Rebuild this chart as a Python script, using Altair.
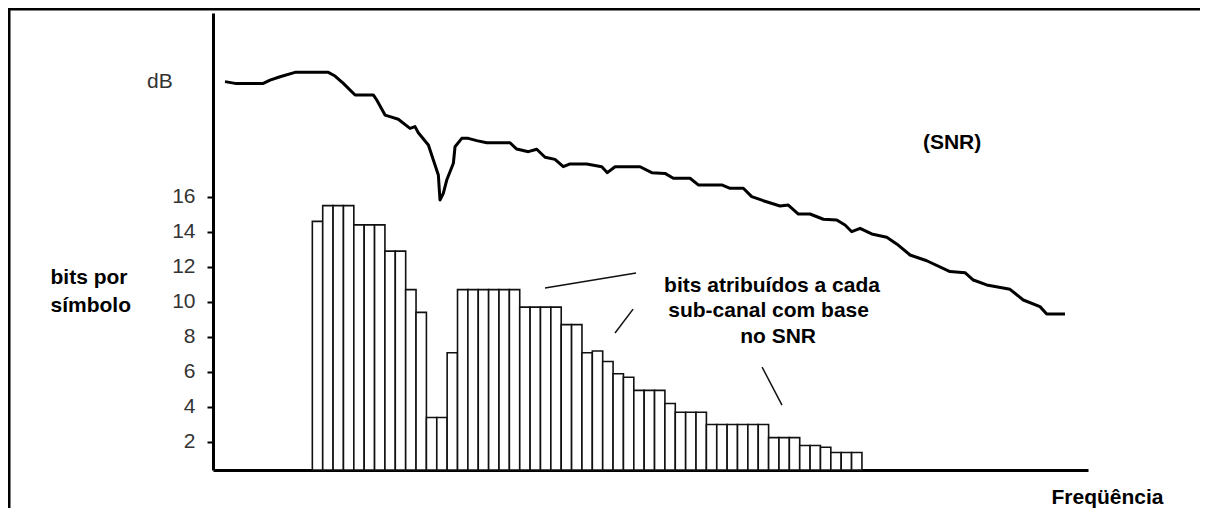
import altair as alt
import pandas as pd

# ---- data ----
bits = [14.6, 15.5, 15.5, 15.5, 14.4, 14.4, 14.4, 12.9, 12.9, 10.7, 9.4, 3.4, 3.4, 7.1,
        10.7, 10.7, 10.7, 10.7, 10.7, 10.7, 9.7, 9.7, 9.7, 9.7, 8.7, 8.7, 7.1, 7.2,
        6.6, 5.9, 5.7, 4.95, 4.95, 4.95, 4.2, 3.7, 3.7, 3.7, 3.0, 3.0, 3.0, 3.0, 3.0, 3.0,
        2.25, 2.25, 2.25, 1.8, 1.8, 1.7, 1.4, 1.4, 1.4]
channels = list(range(1, len(bits) + 1))

snr_x = [-8.42, -7.45, -4.73, -4.08, -3.11, -1.67, 1.54, 2.19, 2.99, 4.12, 5.88, 6.21, 7.01, 7.49,
         8.29, 9.42, 9.90, 10.22, 11.19, 11.67, 12.15, 12.31, 12.63, 12.96, 13.60, 13.76, 14.41,
         15.04, 15.85, 16.82, 19.06, 19.71, 20.83, 21.64, 22.44, 23.40, 24.20, 24.85, 26.46, 27.91,
         28.45, 29.19, 31.60, 32.73, 34.01, 34.81, 36.42, 37.22, 39.48, 40.28, 41.56, 42.37, 43.49,
         45.10, 45.90, 46.87, 47.99, 49.28, 50.57, 51.37, 52.02, 52.82, 53.94, 55.39, 56.35, 57.64,
         59.25, 61.49, 62.94, 63.74, 65.03, 67.28, 68.56, 70.17, 70.82, 72.58]
snr_y = [22.58, 22.48, 22.48, 22.67, 22.86, 23.11, 23.11, 22.90, 22.48, 21.82, 21.82, 21.53, 20.67,
         20.58, 20.43, 19.91, 20.01, 19.66, 18.96, 18.10, 17.25, 15.82, 16.20, 16.96, 17.92, 18.86,
         19.34, 19.34, 19.21, 19.09, 19.09, 18.73, 18.58, 18.72, 18.26, 18.14, 17.72, 17.88, 17.88,
         17.72, 17.38, 17.72, 17.72, 17.38, 17.34, 17.06, 17.06, 16.68, 16.68, 16.49, 16.49, 16.01,
         15.78, 15.48, 15.53, 15.02, 15.02, 14.72, 14.68, 14.39, 14.01, 14.20, 13.88, 13.69, 13.31,
         12.68, 12.35, 11.73, 11.67, 11.25, 10.97, 10.72, 10.11, 9.73, 9.31, 9.31]

ptr_x = [22.44, 30.93, 43.37]
ptr_y = [10.79, 9.59, 6.28]
ptr_x2 = [31.22, 29.19, 45.29]
ptr_y2 = [11.65, 8.22, 4.11]

ann_text = ["bits atribuídos a cada", "sub-canal com base", "no SNR"]
ann_x = [44.33, 44.0, 44.91]
ann_y = [10.57, 9.14, 7.65]

snr_label = ["(SNR)"]
snr_label_x = [61.69]
snr_label_y = [18.73]

y_ticks = [2, 4, 6, 8, 10, 12, 14, 16]

FONT = "Liberation Sans"

bars_df = pd.DataFrame({"ch": channels, "bits": bits})
bars_df["x0"] = bars_df["ch"] - 1
bars_df["x1"] = bars_df["ch"]
snr_df = pd.DataFrame({"x": snr_x, "y": snr_y, "o": list(range(len(snr_x)))})
ptr_df = pd.DataFrame({"x": ptr_x, "y": ptr_y, "x2": ptr_x2, "y2": ptr_y2})
ann_df = pd.DataFrame({"t": ann_text, "x": ann_x, "y": ann_y})
lab_df = pd.DataFrame({"t": snr_label, "x": snr_label_x, "y": snr_label_y})
one = pd.DataFrame({"a": [0]})

x_scale = alt.Scale(domain=[-9.58, 74.8], nice=False, zero=False)
y_scale = alt.Scale(domain=[0.4, 26.5], nice=False, zero=False)

bars = alt.Chart(bars_df).mark_rect(fill="white", stroke="#111", strokeWidth=1.6).encode(
    x=alt.X("x0:Q", scale=x_scale,
            axis=alt.Axis(title="Freqüência", ticks=False, labels=False, grid=False,
                          domainColor="black", domainWidth=3,
                          titleFont=FONT, titleFontSize=21, titleFontWeight="bold",
                          titleColor="black", titleAlign="center", titleBaseline="alphabetic",
                          titleX=894, titleY=33, titleAngle=0)),
    x2="x1:Q",
    y=alt.Y("bits:Q", scale=y_scale,
            axis=alt.Axis(values=y_ticks, title=["bits por", "símbolo"], grid=False,
                          domainColor="black", domainWidth=3,
                          tickColor="black", tickWidth=2, tickSize=6,
                          labelFont=FONT, labelFontSize=21, labelColor="#333",
                          labelPadding=12,
                          titleFont=FONT, titleFontSize=21, titleFontWeight="bold",
                          titleColor="black", titleAngle=0, titleAlign="left",
                          titleBaseline="alphabetic", titleX=-163, titleY=270,
                          titleLineHeight=28)),
    y2=alt.value(457),
)

line = alt.Chart(snr_df).mark_line(color="black", strokeWidth=3, strokeJoin="round").encode(
    x=alt.X("x:Q", scale=x_scale),
    y=alt.Y("y:Q", scale=y_scale),
    order="o:Q",
)

ptrs = alt.Chart(ptr_df).mark_rule(color="#111", strokeWidth=1.5).encode(
    x=alt.X("x:Q", scale=x_scale), y=alt.Y("y:Q", scale=y_scale),
    x2="x2:Q", y2="y2:Q",
)

ann = alt.Chart(ann_df).mark_text(font=FONT, fontSize=21, fontWeight="bold", color="black",
                                  align="center", baseline="alphabetic").encode(
    x=alt.X("x:Q", scale=x_scale), y=alt.Y("y:Q", scale=y_scale), text="t:N",
)

lab = alt.Chart(lab_df).mark_text(font=FONT, fontSize=21, fontWeight="bold", color="black",
                                  align="center", baseline="alphabetic").encode(
    x=alt.X("x:Q", scale=x_scale), y=alt.Y("y:Q", scale=y_scale), text="t:N",
)

db = alt.Chart(one).mark_text(font=FONT, fontSize=21, color="#333", align="left",
                              baseline="alphabetic", text="dB").encode(
    x=alt.value(-66), y=alt.value(75),
)

frame_left = alt.Chart(one).mark_rect(color="black", strokeWidth=0).encode(
    x=alt.value(-205.5), x2=alt.value(-202.5), y=alt.value(-5.5), y2=alt.value(495),
)
frame_top = alt.Chart(one).mark_rect(color="black", strokeWidth=0).encode(
    x=alt.value(-205.5), x2=alt.value(987), y=alt.value(-5.5), y2=alt.value(-2.5),
)

chart = alt.layer(bars, line, ptrs, ann, lab, db, frame_left, frame_top).properties(
    width=875, height=457,
    padding={"left": 205, "top": 5, "right": 112, "bottom": 38},
    autosize=alt.AutoSizeParams(type="none"),
).configure(background="white").configure_view(stroke=None, strokeWidth=0)

chart.save("out.html", embed_options={"renderer": "svg", "actions": False})
